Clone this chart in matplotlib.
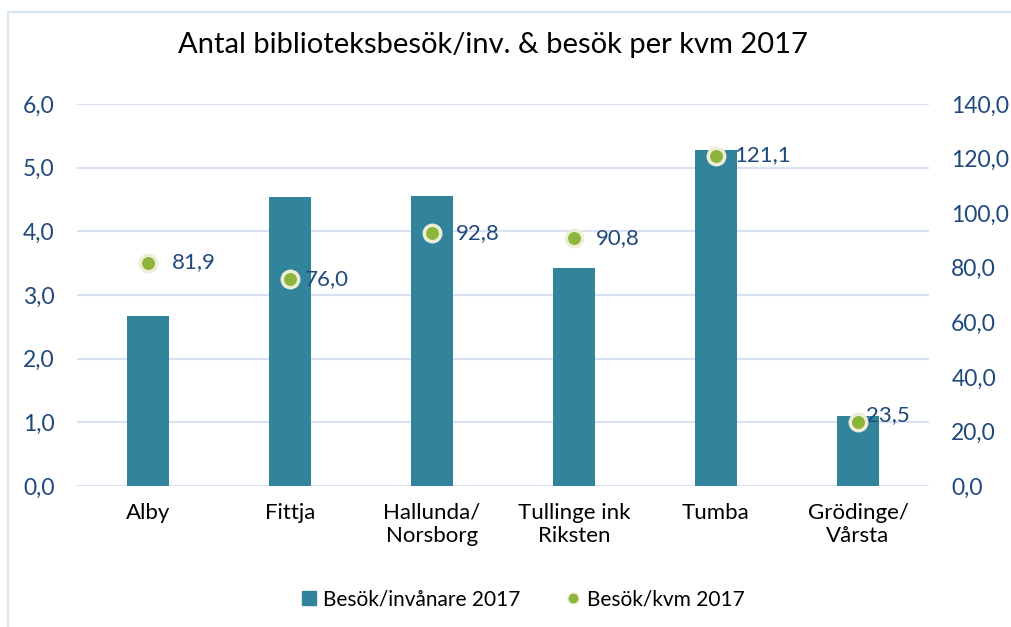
import matplotlib.pyplot as plt
from matplotlib.patches import Rectangle
from matplotlib.lines import Line2D

# data
categories = ["Alby", "Fittja", "Hallunda/\nNorsborg", "Tullinge ink\nRiksten",
              "Tumba", "Grödinge/\nVårsta"]
besok_per_inv = [2.67, 4.54, 4.55, 3.42, 5.27, 1.10]
besok_per_kvm = [81.9, 76.0, 92.8, 90.8, 121.1, 23.5]

left_ticks = [0, 1, 2, 3, 4, 5, 6]
right_ticks = [0, 20, 40, 60, 80, 100, 120, 140]

# label offsets (points), as Excel placed them
label_dx = [17, 11, 17, 16, 13, 6]
label_dy = [0, 0, 0, 0, 0, 5]

BAR = "#31849B"
GREEN = "#8DB53C"
TICK = "#1F497D"
GRID = "#D9E1F2"

plt.rcParams["font.family"] = ["Lato", "DejaVu Sans"]


def fmt(v):
    return f"{v:.1f}".replace(".", ",")


def main():
    fig = plt.figure(figsize=(10.12, 6.27), dpi=100)
    ax = fig.add_axes([0.076, 0.2249, 0.842, 0.6092])

    x = list(range(len(categories)))
    ax.bar(x, besok_per_inv, width=0.29, color=BAR, zorder=3)
    ax.set_xlim(-0.5, len(categories) - 0.5)
    ax.set_ylim(0, 6)
    ax.set_yticks(left_ticks)
    ax.set_yticklabels([fmt(v) for v in left_ticks])
    ax.set_xticks(x)
    ax.set_xticklabels(categories)
    ax.grid(axis="y", color=GRID, linewidth=1.5, zorder=0)
    for s in ax.spines.values():
        s.set_visible(False)
    ax.tick_params(axis="y", length=0, pad=16, labelsize=16.5, labelcolor=TICK)
    ax.tick_params(axis="x", length=0, pad=12, labelsize=16, labelcolor="black")

    ax2 = ax.twinx()
    ax2.set_ylim(0, 140)
    ax2.set_yticks(right_ticks)
    ax2.set_yticklabels([fmt(v) for v in right_ticks])
    ax2.tick_params(axis="y", length=0, pad=16, labelsize=16.5, labelcolor=TICK)
    for s in ax2.spines.values():
        s.set_visible(False)
    ax2.scatter(x, besok_per_kvm, s=140, color=GREEN, edgecolors="#EEEED8",
                linewidths=2.5, zorder=5)
    for i, v in enumerate(besok_per_kvm):
        ax2.annotate(fmt(v), (x[i], v), xytext=(label_dx[i], label_dy[i]),
                     textcoords="offset points", va="center", ha="left",
                     fontsize=16, color=TICK)

    fig.text(0.487, 0.928, "Antal biblioteksbesök/inv. & besök per kvm 2017",
             ha="center", va="center", fontsize=21, color="black")

    handles = [
        Rectangle((0, 0), 1, 1, color=BAR),
        Line2D([], [], marker="o", linestyle="none", markersize=8,
               markerfacecolor=GREEN, markeredgecolor="#EEEED8", markeredgewidth=1),
    ]
    fig.legend(handles, ["Besök/invånare 2017", "Besök/kvm 2017"],
               loc="center", bbox_to_anchor=(0.517, 0.044), ncol=2, frameon=False,
               fontsize=15, handlelength=0.7, handletextpad=0.3, columnspacing=2.2)

    # outer chart border
    fig.patches.append(Rectangle((8 / 1012, -0.1), 1.1, 1 - 12 / 627 + 0.1,
                                 transform=fig.transFigure, fill=False,
                                 edgecolor="#D6E3F0", linewidth=1.5))

    fig.savefig("out.png", dpi=100)
    plt.close(fig)


if __name__ == "__main__":
    main()
